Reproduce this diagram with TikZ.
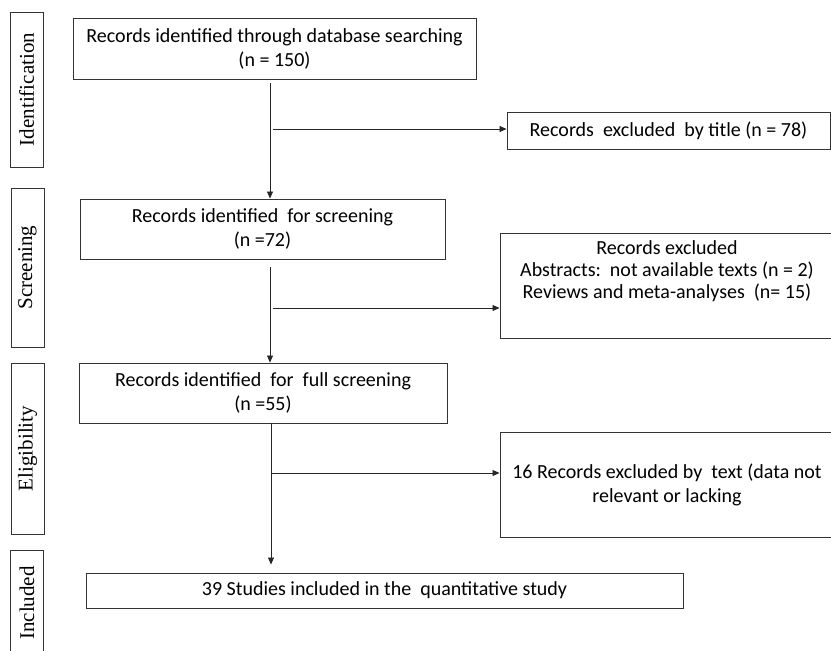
\documentclass[tikz,border=0pt]{standalone}
\usepackage{fontspec}
\setmainfont{Carlito}
\newfontfamily\stagefont{Liberation Serif}
\usetikzlibrary{arrows.meta, positioning, calc}

\tikzset{
  stagebox/.style={draw=black!80, line width=0.9pt, rotate=90, minimum height=33, inner sep=0pt, font=\stagefont\fontsize{21}{21}\selectfont},
  recbox/.style={draw=black!80, line width=0.9pt, align=center, inner sep=0pt, font=\fontsize{20}{24}\selectfont},
  flow/.style={-{Triangle[length=7pt,width=6pt]}, line width=0.8pt, black!85}
}

\begin{document}
\begin{tikzpicture}[x=1pt,y=-1pt]
\useasboundingbox (0,0) rectangle (831,651);
% Stages on the left
\node[stagebox, minimum width=155] (ident) at (26.5,89.5) {Identification};
\node[stagebox, minimum width=159] (screen) at (27.5,267.5) {Screening};
\node[stagebox, minimum width=171] (elig) at (27.5,448.5) {Eligibility};
\node[stagebox, minimum width=106] (incl) at (27,603) {Included};
% Main column
\node[recbox, minimum width=403, minimum height=61] (found) at (274.5,48.5) {Records identified through database searching\\(n = 150)};
\node[recbox, minimum width=365, minimum height=60] (screened) at (262.5,229) {Records identified\ \ for screening\\(n =72)};
\node[recbox, minimum width=368, minimum height=60] (full) at (263,393) {Records identified\ \ for\ \ full screening\\(n =55)};
\node[recbox, minimum width=597, minimum height=35] (kept) at (384.5,590.5) {39 Studies included in the\ \ quantitative study};
% Excluded records
\node[recbox, minimum width=323, minimum height=37] (byTitle) at (668.5,130.5) {Records\ \ excluded\ \ by title (n = 78)};
\node[recbox, minimum width=334, minimum height=105] (byAbstract) at (667,285.5) {};
\node[below=5pt of byAbstract.north, align=center, font=\fontsize{20}{22}\selectfont] (byAbstractTxt) {Records excluded\\Abstracts:\ \ not available texts (n = 2)\\Reviews and meta-analyses\ \ (n= 15)};
\node[recbox, minimum width=334, minimum height=105] (byText) at (667,484.5) {16 Records excluded by\ \ text (data not\\relevant or lacking};
% Arrows
\coordinate (j1) at (270,129);
\coordinate (j2) at (270,308);
\coordinate (j3) at (271,473);
\draw[flow, shorten <=4pt] (found.south -| j1) -- (screened.north -| j1);
\draw[flow] ([xshift=3pt]j1) -- (byTitle.west |- j1);
\draw[flow, shorten <=8pt] (screened.south -| j2) -- (full.north -| j2);
\draw[flow] ([xshift=3pt]j2) -- (byAbstract.west |- j2);
\draw[flow, shorten >=8pt] (full.south -| j3) -- (kept.north -| j3);
\draw[flow] ([xshift=1pt]j3) -- (byText.west |- j3);
\end{tikzpicture}
\end{document}
